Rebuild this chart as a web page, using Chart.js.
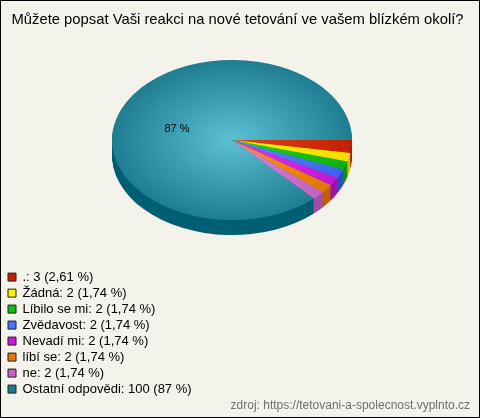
<!DOCTYPE html>
<html><head><meta charset="utf-8">
<script src="https://cdn.jsdelivr.net/npm/chart.js@4/dist/chart.umd.min.js"></script>
<style>html,body{margin:0;padding:0;background:#f4f3eb;}canvas{display:block;}</style>
</head><body>
<canvas id="c" width="480" height="418"></canvas>
<script>
const titleText = "Můžete popsat Vaši reakci na nové tetování ve vašem blízkém okolí?";
const sourceText = "zdroj: https://tetovani-a-spolecnost.vyplnto.cz";
const categories = ".,Žádná,Líbilo se mi,Zvědavost,Nevadí mi,líbí se,ne,Ostatní odpovědi".split(",");
const counts = [3, 2, 2, 2, 2, 2, 2, 100];
const percentLabels = ["2,61", "1,74", "1,74", "1,74", "1,74", "1,74", "1,74", "87"];
const topInner = ["#dc4420", "#fff400", "#22d222", "#5c88ff", "#e234f2", "#f89c14", "#d486dc", "#5cc0d4"];
const topOuter = ["#c42000", "#f2dc00", "#10b010", "#3c64f0", "#c018d0", "#e07800", "#c262c4", "#1f7d92"];
const sideColors = ["#a81800", "#d4bc00", "#0c960c", "#2c4cc4", "#9e10ae", "#c05e00", "#a24ea8", "#005f73"];
const legendColors = ["#c81e00", "#ffee00", "#10c010", "#4a74ff", "#c818d8", "#e87800", "#c864c8", "#1e7c8e"];

const CX = 232, CY = 140, RX = 120, RY = 80, DEPTH = 15;

function applyT(ctx, arc, dy) {
  const R = arc.outerRadius;
  ctx.translate(CX, CY + dy);
  ctx.scale(RX / R, RY / R);
  ctx.translate(-arc.x, -arc.y);
}

const tilt = {
  id: 'tilt',
  beforeDraw(chart) {
    const ctx = chart.ctx;
    ctx.save();
    ctx.fillStyle = '#f4f3eb';
    ctx.fillRect(0, 0, chart.width, chart.height);
    ctx.restore();
  },
  beforeDatasetsDraw(chart) {
    const meta = chart.getDatasetMeta(0);
    const ctx = chart.ctx;
    const a0 = meta.data[0];
    for (let d = DEPTH; d >= 1; d--) {
      ctx.save();
      applyT(ctx, a0, d);
      meta.data.forEach((arc, i) => {
        ctx.beginPath();
        ctx.moveTo(arc.x, arc.y);
        ctx.arc(arc.x, arc.y, arc.outerRadius, arc.startAngle, arc.endAngle);
        ctx.closePath();
        ctx.fillStyle = sideColors[i];
        ctx.fill();
      });
      ctx.restore();
    }
    ctx.save();
    applyT(ctx, a0, 0);
  },
  afterDatasetsDraw(chart) {
    const ctx = chart.ctx;
    ctx.restore();
    const meta = chart.getDatasetMeta(0);
    const total = counts.reduce((a, b) => a + b, 0);
    meta.data.forEach((arc, i) => {
      if (counts[i] / total < 0.1) return;
      const p = arc.tooltipPosition();
      const R = arc.outerRadius;
      const x = CX + (p.x - arc.x) * RX / R;
      const y = CY + (p.y - arc.y) * RY / R + 5;
      ctx.save();
      ctx.font = '11px "Liberation Sans", Arial, sans-serif';
      ctx.fillStyle = '#000';
      ctx.textAlign = 'center';
      ctx.textBaseline = 'middle';
      ctx.fillText(percentLabels[i] + ' %', x, y);
      ctx.restore();
    });
  },
  afterDraw(chart) {
    const ctx = chart.ctx;
    ctx.save();
    ctx.strokeStyle = '#000';
    ctx.lineWidth = 1;
    ctx.strokeRect(0.5, 0.5, chart.width - 1, chart.height - 1);
    ctx.restore();
  }
};

function gradientFor(context) {
  const chart = context.chart;
  const area = chart.chartArea;
  const i = context.dataIndex;
  if (!area || i === undefined) return topOuter[i] || '#888';
  const cx = (area.left + area.right) / 2, cy = (area.top + area.bottom) / 2;
  const r = Math.min(area.right - area.left, area.bottom - area.top) / 2;
  const g = chart.ctx.createRadialGradient(cx, cy, 0, cx, cy, r);
  g.addColorStop(0, topInner[i]);
  g.addColorStop(1, topOuter[i]);
  return g;
}

new Chart(document.getElementById('c'), {
  type: 'pie',
  data: {
    labels: categories,
    datasets: [{ data: counts, backgroundColor: gradientFor, borderWidth: 0, clip: false }]
  },
  options: {
    responsive: false,
    animation: false,
    rotation: 90,
    layout: { padding: { left: 5, right: 10, top: 0, bottom: 0 } },
    plugins: {
      title: {
        display: true, text: titleText, align: 'center', color: '#000',
        font: { family: '"Liberation Sans", Arial, sans-serif', size: 14.8, weight: 'normal' },
        padding: { top: 11, bottom: 6 }
      },
      subtitle: {
        display: true, text: sourceText, position: 'bottom', align: 'end', color: '#6e6e6e',
        font: { family: '"Liberation Sans", Arial, sans-serif', size: 12, weight: 'normal' },
        padding: { top: 0, bottom: 5 }
      },
      legend: {
        position: 'left', align: 'end', fullSize: false,
        labels: {
          boxWidth: 8, boxHeight: 8, padding: 3, color: '#000',
          font: { family: '"Liberation Sans", Arial, sans-serif', size: 13 },
          generateLabels: () => categories.map((c, i) => ({
            text: c + ': ' + counts[i] + ' (' + percentLabels[i] + ' %)',
            fillStyle: legendColors[i], strokeStyle: '#222', lineWidth: 1,
            hidden: false, index: i
          }))
        }
      },
      tooltip: { enabled: false }
    }
  },
  plugins: [tilt]
});
</script>
</body></html>
